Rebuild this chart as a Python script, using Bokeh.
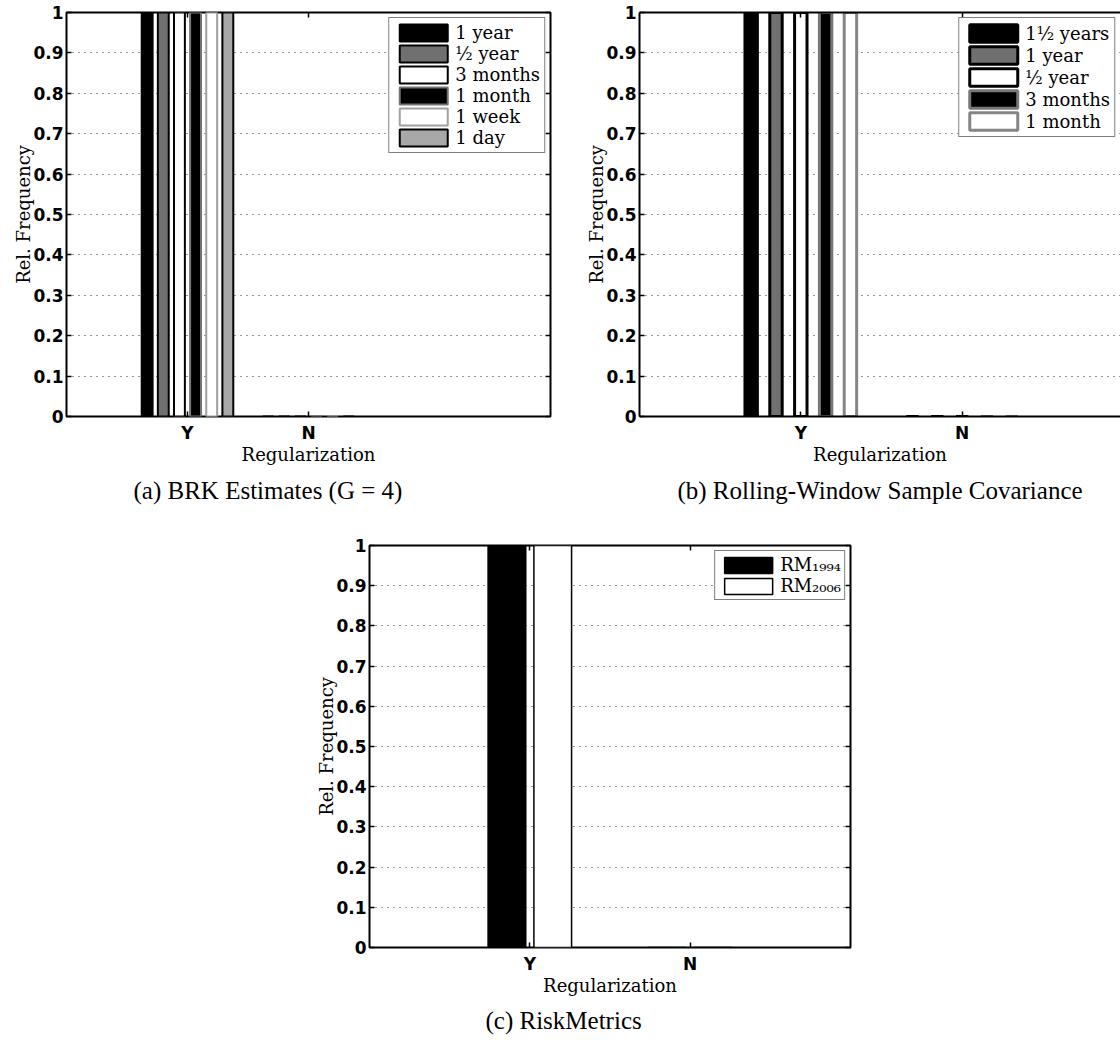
from bokeh.plotting import figure
from bokeh.models import (Range1d, FixedTicker, LinearAxis, Legend, LegendItem,
                          Title, Spacer, Grid)
from bokeh.layouts import column, row
from bokeh.embed import file_html
from bokeh.resources import INLINE

# ---------------- data ----------------
categories = ["Y", "N"]
cat_pos = [1, 2]
y_ticks = [0, 0.1, 0.2, 0.3, 0.4, 0.5, 0.6, 0.7, 0.8, 0.9, 1]
y_tick_labels = ["0", "0.1", "0.2", "0.3", "0.4", "0.5", "0.6", "0.7", "0.8", "0.9", "1"]

# (a) BRK Estimates (G = 4)
brk_names = ["1 year", "½ year", "3 months", "1 month", "1 week", "1 day"]
brk_1year = [1.0, 0.0]
brk_half_year = [1.0, 0.0]
brk_3months = [1.0, 0.0]
brk_1month = [1.0, 0.0]
brk_1week = [1.0, 0.0]
brk_1day = [1.0, 0.0]

# (b) Rolling-Window Sample Covariance
roll_names = ["1½ years", "1 year", "½ year", "3 months", "1 month"]
roll_18months = [1.0, 0.0]
roll_1year = [1.0, 0.0]
roll_half_year = [1.0, 0.0]
roll_3months = [1.0, 0.0]
roll_1month = [1.0, 0.0]

# (c) RiskMetrics
rm_names = ["RM₁₉₉₄", "RM₂₀₀₆"]
rm_1994 = [1.0, 0.0]
rm_2006 = [1.0, 0.0]

captions = ["(a) BRK Estimates (G = 4)", "(b) Rolling-Window Sample Covariance",
            "(c) RiskMetrics"]

# ---------------- styles ----------------
brk_styles = [("#000000", "#000000"), ("#707070", "#000000"), ("#ffffff", "#000000"),
              ("#000000", "#737373"), ("#ffffff", "#a0a0a0"), ("#a8a8a8", "#000000")]
roll_styles = [("#000000", "#000000"), ("#707070", "#000000"), ("#ffffff", "#000000"),
               ("#000000", "#777777"), ("#ffffff", "#858585")]
rm_styles = [("#000000", "#000000"), ("#ffffff", "#000000")]

TICK_FONT = "DejaVu Sans"
LABEL_FONT = "DejaVu Serif"
CAP_FONT = "Liberation Serif"


def hidden_axis(ticks):
    return LinearAxis(ticker=FixedTicker(ticks=ticks),
                      major_label_overrides={t: "" for t in ticks},
                      major_label_text_font_size="6px",
                      major_label_standoff=0, major_tick_in=5, major_tick_out=0,
                      major_tick_line_width=1.5, minor_tick_line_color=None,
                      axis_line_color=None)


def make_panel(series, names, styles, lw, bar_w, x_end, width, height,
               borders, closed_box, glyph_h, leg_spacing, leg_padding,
               caption, cap_align, cap_offset, cap_standoff):
    p = figure(width=width, height=height, x_range=Range1d(0, x_end),
               y_range=Range1d(0, 1), output_backend="svg", toolbar_location=None,
               x_axis_location=None, y_axis_location=None,
               min_border_left=borders[0], min_border_right=borders[1],
               min_border_top=borders[2], min_border_bottom=borders[3])
    for g in p.grid:
        g.visible = False
    p.background_fill_color = "white"
    p.border_fill_color = "white"
    if closed_box:
        p.outline_line_color = "black"
        p.outline_line_width = 2
        p.outline_line_alpha = 1
    else:
        p.outline_line_color = None

    p.add_layout(Grid(dimension=1, ticker=FixedTicker(ticks=y_ticks[1:-1]),
                      grid_line_color="#333333", grid_line_dash="1 5",
                      grid_line_width=1), "center")

    yl = LinearAxis(ticker=FixedTicker(ticks=y_ticks),
                    major_label_overrides=dict(zip(y_ticks, y_tick_labels)),
                    axis_label="Rel. Frequency")
    xl = LinearAxis(ticker=FixedTicker(ticks=cat_pos),
                    major_label_overrides=dict(zip(cat_pos, categories)),
                    axis_label="Regularization")
    for ax in (yl, xl):
        ax.major_label_text_font = TICK_FONT
        ax.major_label_text_font_style = "bold"
        ax.major_label_text_font_size = "17px"
        ax.major_label_text_color = "black"
        ax.axis_label_text_font = LABEL_FONT
        ax.axis_label_text_font_style = "normal"
        ax.axis_label_text_font_size = "18px"
        ax.axis_label_text_color = "black"
        ax.major_tick_in = 5
        ax.major_tick_out = 0
        ax.major_tick_line_width = 1.5
        ax.minor_tick_line_color = None
        if closed_box:
            ax.axis_line_color = None
        else:
            ax.axis_line_color = "black"
            ax.axis_line_width = 2
    yl.major_label_standoff = 3
    yl.axis_label_standoff = -4
    xl.major_label_standoff = 6
    xl.axis_label_standoff = -2
    p.add_layout(yl, "left")
    p.add_layout(xl, "below")
    top_ax = hidden_axis(cat_pos)
    if not closed_box:
        top_ax.axis_line_color = "black"
        top_ax.axis_line_width = 2
    p.add_layout(top_ax, "above")
    if closed_box:
        p.add_layout(hidden_axis(y_ticks), "right")

    n = len(series)
    slot = min(0.8, n / (n + 1.5)) / n
    items = []
    for i, (vals, name, (fc, lc)) in enumerate(zip(series, names, styles)):
        off = (i - (n - 1) / 2) * slot
        xs = [c + off for c in cat_pos]
        r = p.vbar(x=xs, top=vals, bottom=0, width=bar_w, fill_color=fc,
                   line_color=lc, line_width=lw)
        items.append(LegendItem(label=name, renderers=[r]))

    leg = Legend(items=items, location="top_right", margin=5, padding=leg_padding,
                 spacing=leg_spacing, glyph_width=60, glyph_height=glyph_h,
                 label_standoff=2, label_text_font=LABEL_FONT,
                 label_text_font_size="18px", label_text_color="black",
                 border_line_color="black", border_line_width=1,
                 background_fill_color="white", background_fill_alpha=1)
    p.add_layout(leg)

    p.add_layout(Title(text=caption, align=cap_align, offset=cap_offset,
                       standoff=cap_standoff, text_font=CAP_FONT,
                       text_font_size="25px", text_font_style="normal",
                       text_color="black"), "below")
    return p


pa = make_panel([brk_1year, brk_half_year, brk_3months, brk_1month, brk_1week, brk_1day],
                brk_names, brk_styles, lw=2, bar_w=0.09, x_end=4,
                width=581, height=535, borders=(66, 31, 12, 119), closed_box=True,
                glyph_h=21, leg_spacing=0, leg_padding=4,
                caption=captions[0], cap_align="left", cap_offset=67, cap_standoff=15)

pb = make_panel([roll_18months, roll_1year, roll_half_year, roll_3months, roll_1month],
                roll_names, roll_styles, lw=3, bar_w=0.077, x_end=2.982,
                width=539, height=535, borders=(58, 0, 12, 119), closed_box=False,
                glyph_h=22, leg_spacing=0, leg_padding=4,
                caption=captions[1], cap_align="center", cap_offset=0, cap_standoff=15)

pc = make_panel([rm_1994, rm_2006], rm_names, rm_styles, lw=1.5, bar_w=0.235, x_end=3,
                width=559, height=507, borders=(58, 20, 10, 95), closed_box=True,
                glyph_h=20, leg_spacing=0, leg_padding=3,
                caption=captions[2], cap_align="left", cap_offset=116, cap_standoff=13)

layout = column(row(pa, pb), row(Spacer(width=311, height=507), pc))

with open("out.html", "w") as f:
    f.write(file_html(layout, INLINE))
